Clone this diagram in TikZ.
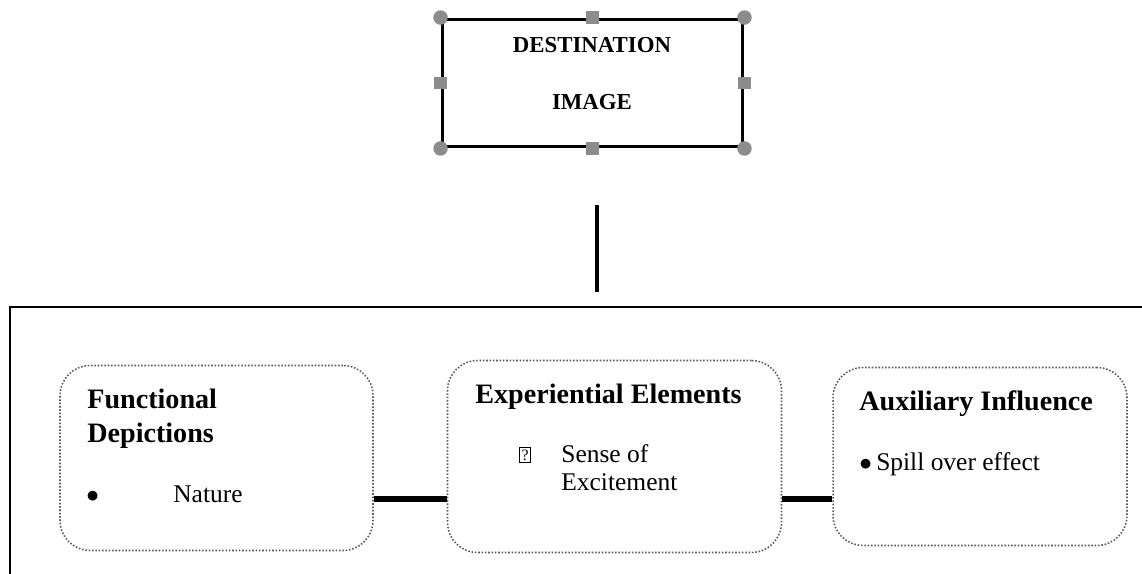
\documentclass[tikz,border=0pt]{standalone}
\usepackage{fontspec}
\setmainfont{Liberation Serif}
\usetikzlibrary{positioning}
\tikzset{%
  frame/.style = {draw,line width=1.7pt,inner sep=0pt},
  dot/.style = {circle,fill=black!45,inner sep=0pt,minimum size=0.29cm},
  knob/.style = {rectangle,fill=black!45,inner sep=0pt,minimum size=0.25cm},
  group/.style = {draw=black!65,densely dotted,line width=0.9pt,
        rounded corners=0.6cm,inner sep=0pt},
  link/.style = {line width=3.4pt},
  stem/.style = {line width=2.8pt},
  title/.style = {font=\fontsize{13}{15}\selectfont\bfseries,anchor=base,inner sep=0pt},
  head/.style = {font=\fontsize{16}{19}\selectfont\bfseries,anchor=base west,inner sep=0pt},
  item/.style = {font=\fontsize{14.5}{17}\selectfont,anchor=base west,inner sep=0pt}
}
\begin{document}
\begin{tikzpicture}[x=0.02cm,y=-0.02cm]
    \useasboundingbox (0,0) rectangle (1142,574);

    % destination image
    \node[frame,minimum width=6.02cm,minimum height=2.56cm] (img) at (592.5,83) {};
    \node[title] (img-a) at (592,53) {DESTINATION};
    \node[title] (img-b) at (592,110) {IMAGE};
    \foreach \a [count=\i] in {north west,north east,south west,south east}
        \node[dot] (hc\i) at (img.\a) {};
    \foreach \a [count=\i] in {north,south,east,west}
        \node[knob] (hs\i) at (img.\a) {};

    \coordinate (stem-top) at (597,205);
    \coordinate (stem-bot) at (597,292);
    \draw[stem] (stem-top) -- (stem-bot);

    % outer frame
    \draw[line width=1.7pt] (10,600) -- (10,307) -- (1170,307);

    % the three groups
    \node[group,minimum width=6.26cm,minimum height=3.7cm] (func) at (216.5,458) {};
    \node[group,minimum width=6.68cm,minimum height=3.84cm] (exper) at (614.5,456.5) {};
    \node[group,minimum width=5.88cm,minimum height=3.56cm] (aux) at (980,456.5) {};

    \node[head] (func-a) at (87,408) {Functional};
    \node[head] (func-b) at (87,442) {Depictions};
    \node[item] (func-c) at (86,502) {$\bullet$};
    \node[item] (func-d) at (173,502) {Nature};

    \node[head] (exper-a) at (475,403) {Experiential Elements};
    \node[item] (exper-b) at (519,460) {{\setlength\fboxsep{0.8pt}\setlength\fboxrule{0.5pt}\fbox{\fontsize{9}{10}\selectfont ?}}};
    \node[item] (exper-c) at (561,462) {Sense of};
    \node[item] (exper-d) at (561,490) {Excitement};

    \node[head] (aux-a) at (859,410) {Auxiliary Influence};
    \node[item] (aux-b) at (859,470) {$\bullet$\,Spill over effect};

    \coordinate (l1) at ([yshift=-0.82cm]func.east);
    \coordinate (l2) at ([yshift=-0.85cm]exper.east);
    \draw[link] (l1) -- (l1 -| exper.west);
    \draw[link] (l2) -- (l2 -| aux.west);
\end{tikzpicture}
\end{document}
